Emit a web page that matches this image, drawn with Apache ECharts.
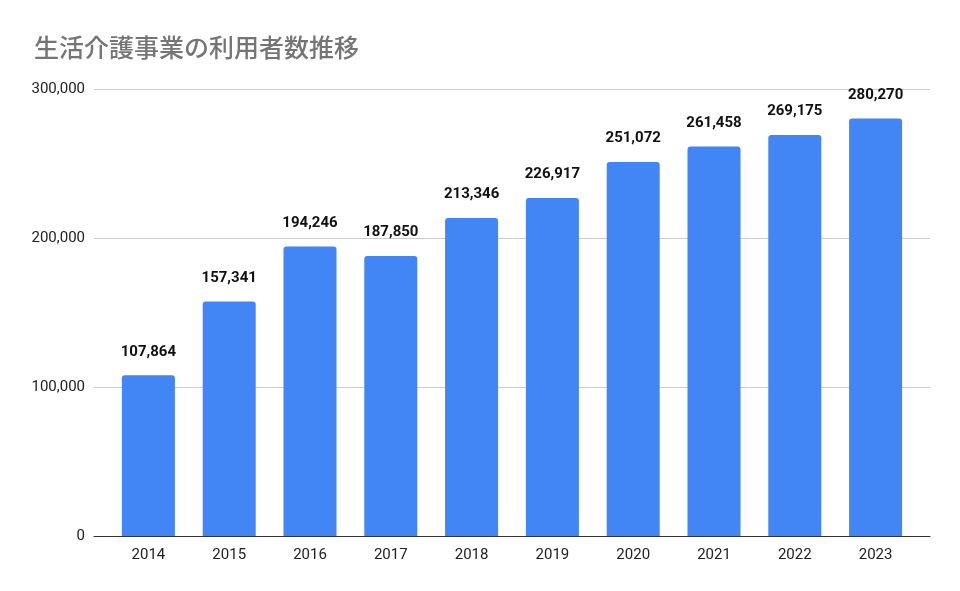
<!DOCTYPE html>
<html><head><meta charset="utf-8">
<script src="https://cdn.jsdelivr.net/npm/echarts@6/dist/echarts.min.js"></script>
<style>html,body{margin:0;padding:0;background:#fff}#c{width:960px;height:591px}</style>
</head><body><div id="c"></div>
<script>
const categories = ['2014','2015','2016','2017','2018','2019','2020','2021','2022','2023'];
const users = [107864,157341,194246,187850,213346,226917,251072,261458,269175,280270];
const yTicks = [0,100000,200000,300000];
const fmt = v => Number(v).toLocaleString('en-US');
const chart = echarts.init(document.getElementById('c'));
chart.setOption({
  animation:false,
  title:{text:'生活介護事業の利用者数推移',left:29,top:30,textStyle:{fontFamily:'Noto Sans CJK JP',fontSize:25,fontWeight:500,color:'#757575'}},
  grid:[
    {left:94,right:30,top:89,bottom:55},
    {left:108,right:44,top:89,bottom:55}
  ],
  xAxis:[
    {gridIndex:0,type:'category',data:categories,axisTick:{show:false},axisLabel:{show:false},
      axisLine:{lineStyle:{color:'#333',width:1}},z:1},
    {gridIndex:1,type:'category',data:categories,axisTick:{show:false},axisLine:{show:false},
      axisLabel:{color:'#222',fontSize:15,fontFamily:'Roboto',margin:12}}
  ],
  yAxis:[
    {gridIndex:0,type:'value',min:yTicks[0],max:yTicks[yTicks.length-1],interval:100000,
      axisLabel:{color:'#222',fontSize:15,fontFamily:'Roboto',margin:9,formatter:fmt},
      splitLine:{lineStyle:{color:'#cccccc'}},axisLine:{show:false},axisTick:{show:false}},
    {gridIndex:1,type:'value',min:yTicks[0],max:yTicks[yTicks.length-1],interval:100000,show:false,
      splitLine:{show:false}}
  ],
  series:[{type:'bar',xAxisIndex:1,yAxisIndex:1,data:users,barWidth:'65.6%',
    itemStyle:{color:'#4285F4',borderRadius:[3,3,0,0]},
    label:{show:true,position:'top',distance:16,color:'#111',fontWeight:'bold',fontSize:15,fontFamily:'Roboto',formatter:p=>fmt(p.value)}}]
});
</script></body></html>
